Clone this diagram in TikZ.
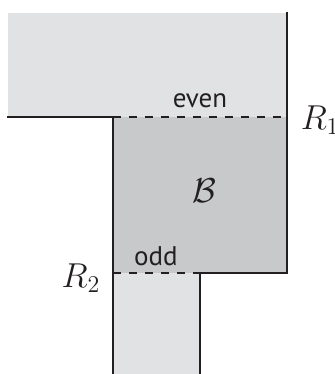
\documentclass[tikz,border=0pt]{standalone}
\usepackage{fontspec}
\setsansfont{PT Sans}
\usepackage{amsmath,amssymb}
\usepackage{tikz}
\usetikzlibrary{calc,positioning}
\usepackage{xcolor}
\definecolor{ink}{HTML}{231F20}
\definecolor{pale}{HTML}{E1E2E4}
\definecolor{slab}{HTML}{C8C9CB}
\tikzset{wall/.style={draw=ink,line width=1.1pt},cutline/.style={draw=ink,line width=1.1pt,dash pattern=on 4pt off 4pt},regionlabel/.style={font=\fontsize{13.5}{15}\sffamily,text=ink,inner sep=0pt},rlabel/.style={font=\fontsize{17.5}{19}\selectfont,text=ink,inner sep=0pt}}

\begin{document}
\begin{tikzpicture}[x=.5pt,y=-.5pt]
\useasboundingbox (0,0) rectangle (335,374);
\fill[pale] (8,13) rectangle (287,117);
\fill[slab] (113,117) rectangle (287,273);
\fill[pale] (113,273) rectangle (200,374);
\draw[wall] (7,117) -- (113,117) -- (113,374);
\draw[wall] (287,12) -- (287,273) -- (200,273) -- (200,374);
\draw[cutline] (113,117) -- (287,117);
\draw[cutline] (113,273) -- (200,273);
\node[regionlabel] (even) at (200,101) {even};
\node[regionlabel] (odd) at (156,256) {odd};
\node[rlabel] (Bset) at (204,191) {$\mathcal{B}$};
\node[rlabel] (Rone) at (320,120) {$R_1$};
\node[rlabel] (Rtwo) at (81,278) {$R_2$};
\end{tikzpicture}
\end{document}
